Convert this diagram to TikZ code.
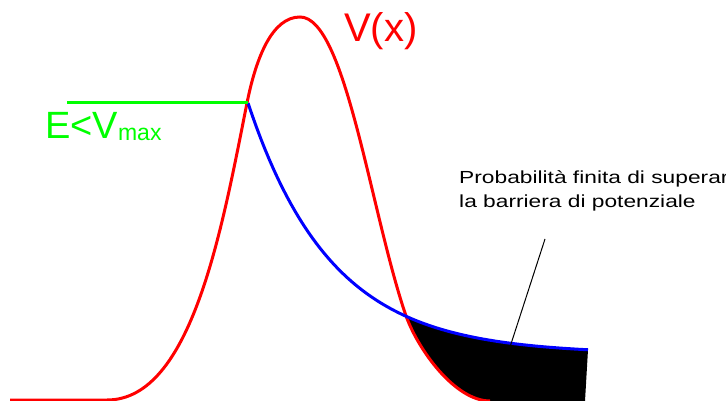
\documentclass[tikz,border=0pt]{standalone}
\usepackage{fontspec}
\setmainfont{Liberation Sans}
\newfontfamily\notefont[FakeStretch=1.3]{Liberation Sans}
\usetikzlibrary{calc}

\begin{document}
\begin{tikzpicture}[x=1pt,y=-1pt]
        \useasboundingbox (0,0) rectangle (726,401);

        \coordinate (V0) at (10,400);
        \coordinate (V1) at (107,400);
        \coordinate (S) at (247,103);   % incontro con E
        \coordinate (T) at (300,17);    % massimo di V
        \coordinate (X) at (405,313);   % incontro con l'onda
        \coordinate (V2) at (490,401);

        % V(x) - barriera di potenziale
        \def\potenziale{(V0) -- (V1) .. controls (192,400) and (222,228) .. (S)
          .. controls (256,58) and (272,17) .. (T)
          .. controls (345,17) and (370,208) .. (X)
          .. controls (417,349) and (455,401) .. (V2)}
        % funzione d'onda
        \def\onda{plot[domain=248:588, samples=80] (\x, {354-251*exp(-0.012*(\x-248))})}

        \coordinate (E0) at (67,103);
        \coordinate (E1) at (248,103);
        \coordinate (contatto) at (510,347);
        \coordinate (attacco) at (545,239);

        % zona nera: sotto l'onda e fuori dalla barriera
        \begin{scope}
          \clip \onda -- (585,401) -- (248,401) -- cycle;
          \fill[black, even odd rule] (0,0) rectangle (726,430) \potenziale -- (490,430) -- (10,430) -- cycle;
        \end{scope}

        \draw[red, line width=3pt] \potenziale;
        \draw[blue, line width=3pt] \onda;
        \draw[green, line width=3pt] (E0) -- (E1);
        \draw[line width=1pt] (contatto) -- (attacco);

        \node[red, anchor=base west, inner sep=0, font=\fontsize{40}{48}\selectfont] (Vx) at (344,42) {V(x)};
        \node[green, anchor=base west, inner sep=0, font=\fontsize{38}{44}\selectfont] (E) at (45,139) {E<V\raisebox{-2pt}{\fontsize{23}{26}\selectfont max}};
        \node[anchor=base west, inner sep=0, align=left, font=\notefont\fontsize{17.5}{23.5}\selectfont] (nota) at (459,207.5) {Probabilità finita di superare\\la barriera di potenziale};

    \end{tikzpicture}
\end{document}
